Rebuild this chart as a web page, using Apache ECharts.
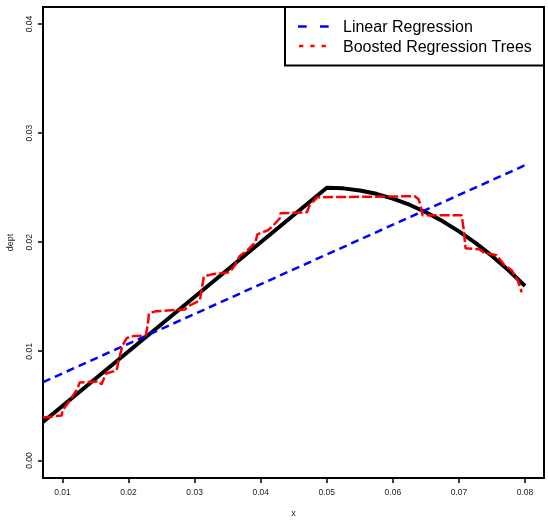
<!DOCTYPE html>
<html>
<head>
<meta charset="utf-8">
<script src="https://cdn.jsdelivr.net/npm/echarts@6/dist/echarts.min.js"></script>
<style>html,body{margin:0;padding:0;background:#fff}#c{width:548px;height:520px}</style>
</head>
<body>
<div id="c"></div>
<script>
// ---- data ----
var xTicks = [0.01, 0.02, 0.03, 0.04, 0.05, 0.06, 0.07, 0.08];
var yTicks = [0.00, 0.01, 0.02, 0.03, 0.04];

// true curve (black)
var trueX = [0.00706, 0.050, 0.0525, 0.055, 0.0575, 0.060, 0.0625, 0.065, 0.0675, 0.070, 0.0725, 0.075, 0.0775, 0.080];
var trueY = [0.00353, 0.0250, 0.02494, 0.02475, 0.02444, 0.0240, 0.02344, 0.02275, 0.02194, 0.0210, 0.01994, 0.01875, 0.01744, 0.0160];

// linear regression (blue)
var linX = [0.00706, 0.080];
var linY = [0.00718, 0.02706];

// boosted regression trees (red)
var brtX = [0.00706, 0.0099, 0.0100, 0.0108, 0.0116, 0.0123, 0.0126, 0.0156, 0.0159, 0.0166, 0.0182, 0.0185, 0.0191, 0.0197, 0.0203, 0.0226, 0.0229, 0.0231, 0.0241, 0.0285, 0.0293, 0.0308, 0.0311, 0.0314, 0.0326, 0.0353, 0.0361, 0.0368, 0.0380, 0.0392, 0.0395, 0.0411, 0.0418, 0.0429, 0.0430, 0.0470, 0.0474, 0.0486, 0.0633, 0.0639, 0.0642, 0.0645, 0.0704, 0.0707, 0.0710, 0.0731, 0.0737, 0.0757, 0.0769, 0.0780, 0.0789, 0.0795];
var brtY = [0.00394, 0.00413, 0.00459, 0.00523, 0.00596, 0.00661, 0.00716, 0.00725, 0.00697, 0.00798, 0.00826, 0.00917, 0.01055, 0.01119, 0.01138, 0.01147, 0.01239, 0.01349, 0.01367, 0.01385, 0.01422, 0.01468, 0.01578, 0.01688, 0.01706, 0.01725, 0.01789, 0.01872, 0.01927, 0.0200, 0.02073, 0.0211, 0.02147, 0.0222, 0.02266, 0.02275, 0.02339, 0.02413, 0.02422, 0.02394, 0.02339, 0.02248, 0.02248, 0.02128, 0.01945, 0.01936, 0.01908, 0.01881, 0.01789, 0.01743, 0.01651, 0.01541];

var legendNames = ['Linear Regression', 'Boosted Regression Trees'];

function zip(a, b) { return a.map(function (v, i) { return [v, b[i]]; }); }

var chart = echarts.init(document.getElementById('c'), null, { renderer: 'canvas' });
var FONT = 'Liberation Sans, Arial, sans-serif';
var XMIN = 0.00706, XMAX = 0.08287, YMIN = -0.0016, YMAX = 0.04156;
chart.setOption({
  animation: false,
  backgroundColor: '#fff',
  grid: { left: 43, right: 4, top: 7, bottom: 42, show: true, borderColor: '#000', borderWidth: 2, backgroundColor: 'transparent', outerBoundsMode: 'none', containLabel: false },
  xAxis: {
    type: 'value', min: XMIN, max: XMAX,
    name: 'x', nameLocation: 'middle', nameGap: 31,
    nameTextStyle: { fontFamily: FONT, fontSize: 9, color: '#222' },
    axisLine: { show: false, onZero: false },
    splitLine: { show: false },
    axisTick: { show: true, inside: false, length: 5, customValues: xTicks, lineStyle: { color: '#000', width: 1.5 } },
    axisLabel: { customValues: xTicks, margin: 10, fontFamily: FONT, fontSize: 8.5, color: '#222', formatter: function (v) { return v.toFixed(2); } }
  },
  yAxis: {
    type: 'value', min: YMIN, max: YMAX,
    name: 'dept', nameLocation: 'middle', nameGap: 28,
    nameTextStyle: { fontFamily: FONT, fontSize: 9, color: '#222' },
    axisLine: { show: false, onZero: false },
    splitLine: { show: false },
    axisTick: { show: false },
    axisLabel: { customValues: yTicks, rotate: 90, margin: 9, fontFamily: FONT, fontSize: 8.5, color: '#222', formatter: function (v) { return v.toFixed(2); } }
  },
  series: [
    { type: 'line', name: 'truth', data: zip(trueX, trueY), showSymbol: false, smooth: false,
      lineStyle: { color: '#000', width: 4 }, z: 2 },
    { type: 'line', name: legendNames[0], data: zip(linX, linY), showSymbol: false,
      lineStyle: { color: '#0000ff', width: 2.5, type: [8, 5] }, z: 3 },
    { type: 'line', name: legendNames[1], data: zip(brtX, brtY), showSymbol: false,
      lineStyle: { color: '#ff0000', width: 2.5, type: [10, 3] }, z: 4 }
  ]
});

// y-axis tick marks placed through the chart's own y scale
var gfx = [
  { type: 'rect', shape: { x: 285, y: 7, width: 259, height: 58.5 }, style: { fill: '#fff', stroke: '#000', lineWidth: 2 }, z: 100 },
  { type: 'line', shape: { x1: 298, y1: 26.5, x2: 329, y2: 26.5 }, style: { stroke: '#0000ff', lineWidth: 2.5, lineDash: [8.7, 13.3] }, z: 101 },
  { type: 'line', shape: { x1: 299, y1: 46, x2: 326, y2: 46 }, style: { stroke: '#ff0000', lineWidth: 2.5, lineDash: [4.3, 7] }, z: 101 },
  { type: 'text', x: 343, y: 27.5, style: { text: legendNames[0], fontFamily: FONT, fontSize: 16, fill: '#000', verticalAlign: 'middle', align: 'left' }, z: 101 },
  { type: 'text', x: 343, y: 47.5, style: { text: legendNames[1], fontFamily: FONT, fontSize: 16, fill: '#000', verticalAlign: 'middle', align: 'left' }, z: 101 }
];
yTicks.forEach(function (v) {
  var p = chart.convertToPixel({ gridIndex: 0 }, [XMIN, v]);
  var yy = Math.round(p[1]);
  gfx.push({ type: 'line', shape: { x1: p[0] - 5, y1: yy, x2: p[0], y2: yy }, style: { stroke: '#000', lineWidth: 1.5 }, z: 50 });
});
chart.setOption({ graphic: gfx });
</script>
</body>
</html>
